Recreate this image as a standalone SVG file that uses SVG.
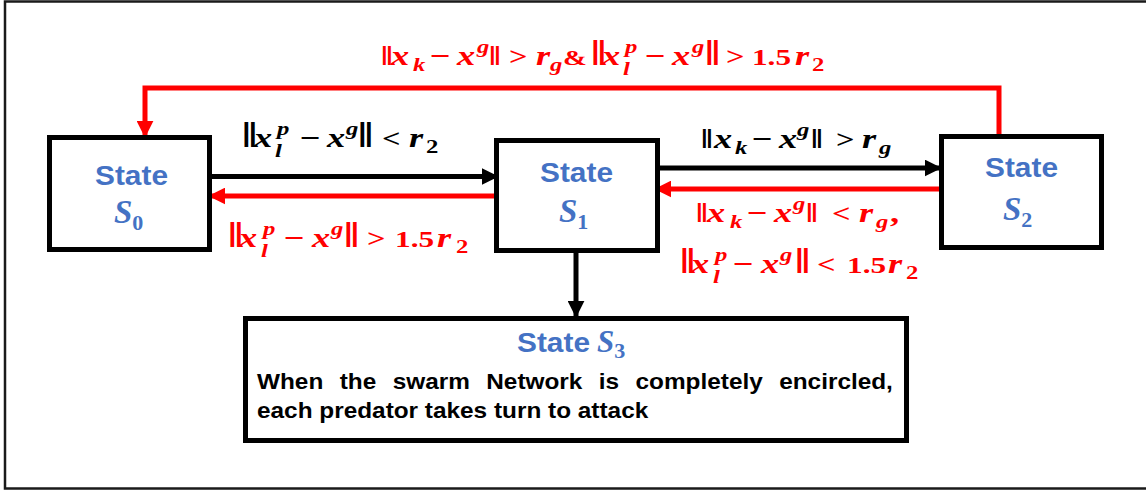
<svg xmlns="http://www.w3.org/2000/svg" width="1146" height="493" viewBox="0 0 1146 493">
<style>
.frame{fill:#fff;stroke:#1a1a1a;stroke-width:2.5}
.box{fill:#fff;stroke:#000;stroke-width:5}
.st{font-family:"Liberation Sans","DejaVu Sans",sans-serif;font-weight:bold;font-size:27px;fill:#4472C4}
.sv{font-family:"Liberation Serif","DejaVu Serif",serif;font-style:italic;font-weight:bold;font-size:33px;fill:#4472C4}
.ss{font-family:"Liberation Serif","DejaVu Serif",serif;font-weight:bold;font-size:22px;fill:#4472C4}
.desc{font-family:"Liberation Sans","DejaVu Sans",sans-serif;font-weight:bold;font-size:22px;fill:#000}
.m{font-family:"Liberation Serif","DejaVu Serif",serif;font-weight:bold;font-size:28px}
.v{font-style:italic}
.sb{font-size:19px;font-style:italic}
.nm{font-size:19px}
.rel{font-size:25px}
.num{font-size:24px}
.amp{font-size:22px}
.bt{font-size:36px}
.bn{font-size:28px}
.blk{fill:#000}
.red{fill:#FF0000}
.cb{fill:none;stroke:#000;stroke-width:5}
.cr{fill:none;stroke:#FF0000;stroke-width:5}
</style>
<defs>
<marker id="ab" viewBox="0 0 10 10" refX="9" refY="5" markerWidth="3.4" markerHeight="3.4" orient="auto" markerUnits="strokeWidth"><path d="M0,0 L10,5 L0,10 z" fill="#000"/></marker>
<marker id="ar" viewBox="0 0 10 10" refX="9" refY="5" markerWidth="3.4" markerHeight="3.4" orient="auto" markerUnits="strokeWidth"><path d="M0,0 L10,5 L0,10 z" fill="#FF0000"/></marker>
</defs>
<rect class="frame" x="5" y="1.5" width="1160" height="487"/>

<g id="connectors">
<line class="cb" x1="211" y1="176.5" x2="497" y2="176.5" marker-end="url(#ab)"/>
<line class="cr" x1="494" y1="196" x2="210" y2="196" marker-end="url(#ar)"/>
<line class="cb" x1="660" y1="168" x2="940" y2="168" marker-end="url(#ab)"/>
<line class="cr" x1="941" y1="189" x2="656" y2="189" marker-end="url(#ar)"/>
<polyline class="cr" points="999,134 999,88 145,88 145,136" marker-end="url(#ar)"/>
<line class="cb" x1="576" y1="253" x2="576" y2="316" marker-end="url(#ab)"/>
</g>

<g id="S0">
<rect class="box" x="49.5" y="137.5" width="160" height="112"/>
<text class="st" x="95" y="185" textLength="73" lengthAdjust="spacingAndGlyphs">State</text>
<text x="114" y="223"><tspan class="sv">S</tspan><tspan class="ss" dy="7">0</tspan></text>
</g>

<g id="S1">
<rect class="box" x="496.5" y="140.5" width="161" height="110"/>
<text class="st" x="540" y="182" textLength="73" lengthAdjust="spacingAndGlyphs">State</text>
<text x="559" y="222"><tspan class="sv">S</tspan><tspan class="ss" dy="7">1</tspan></text>
</g>

<g id="S2">
<rect class="box" x="941.5" y="136.5" width="160" height="111"/>
<text class="st" x="985" y="177" textLength="73" lengthAdjust="spacingAndGlyphs">State</text>
<text x="1003" y="220"><tspan class="sv">S</tspan><tspan class="ss" dy="7">2</tspan></text>
</g>

<g id="S3">
<rect class="box" x="245.5" y="318.5" width="661" height="122"/>
<text class="st" x="517" y="352" textLength="73" lengthAdjust="spacingAndGlyphs">State</text>
<text x="597" y="352"><tspan class="sv" style="font-size:31px">S</tspan><tspan class="ss" dy="6">3</tspan></text>
<g transform="translate(257 0) scale(1.108 1)">
<text class="desc" x="0" y="389" word-spacing="8.7">When the swarm Network is completely encircled,</text>
<text class="desc" x="0" y="418">each predator takes turn to attack</text>
</g>
</g>

<g id="labels">
<text class="m red" transform="translate(381 0) scale(1.3 1)"><tspan class="bn" x="0" y="65">‖</tspan><tspan class="v" x="7.7" y="65">x</tspan><tspan class="sb" x="24.6" y="71">k</tspan><tspan x="37.7" y="65">−</tspan><tspan class="v" x="58.5" y="65">x</tspan><tspan class="sb" x="73.8" y="53">g</tspan><tspan class="bn" x="83.1" y="65">‖</tspan><tspan class="rel" x="98.5" y="65">&gt;</tspan><tspan class="v" x="119.2" y="65">r</tspan><tspan class="sb" x="130" y="71">g</tspan><tspan class="amp" x="140" y="65">&amp;</tspan><tspan class="bt" x="161.5" y="65">‖</tspan><tspan class="v" x="170" y="65">x</tspan><tspan class="sb" x="186.2" y="75">l</tspan><tspan class="sb" x="187.7" y="53">p</tspan><tspan x="203" y="65">−</tspan><tspan class="v" x="223.8" y="65">x</tspan><tspan class="sb" x="239.2" y="53">g</tspan><tspan class="bt" x="249.2" y="65">‖</tspan><tspan class="rel" x="265.4" y="65">&gt;</tspan><tspan class="num" x="285.4" y="65">1.5</tspan><tspan class="v" x="318.5" y="65">r</tspan><tspan class="nm" x="331.5" y="71">2</tspan></text>

<text class="m blk" transform="translate(242 0) scale(1.3 1)"><tspan class="bt" x="0" y="147">‖</tspan><tspan class="v" x="9.2" y="147">x</tspan><tspan class="sb" x="25.4" y="157">l</tspan><tspan class="sb" x="26.9" y="135">p</tspan><tspan x="44.6" y="147">−</tspan><tspan class="v" x="65.4" y="147">x</tspan><tspan class="sb" x="80" y="135">g</tspan><tspan class="bt" x="89.2" y="147">‖</tspan><tspan class="rel" x="107.7" y="147">&lt;</tspan><tspan class="v" x="128.5" y="147">r</tspan><tspan class="nm" x="141.5" y="153">2</tspan></text>

<text class="m red" transform="translate(228 0) scale(1.3 1)"><tspan class="bt" x="0" y="247">‖</tspan><tspan class="v" x="8.5" y="247">x</tspan><tspan class="sb" x="25.4" y="257">l</tspan><tspan class="sb" x="26.9" y="235">p</tspan><tspan x="43.1" y="247">−</tspan><tspan class="v" x="64.6" y="247">x</tspan><tspan class="sb" x="79.2" y="235">g</tspan><tspan class="bt" x="89.2" y="247">‖</tspan><tspan class="rel" x="106.9" y="247">&gt;</tspan><tspan class="num" x="128.5" y="247">1.5</tspan><tspan class="v" x="160.8" y="247">r</tspan><tspan class="nm" x="175.4" y="253">2</tspan></text>

<text class="m blk" transform="translate(701 0) scale(1.3 1)"><tspan class="bn" x="0" y="148">‖</tspan><tspan class="v" x="10" y="148">x</tspan><tspan class="sb" x="26.2" y="154">k</tspan><tspan x="39.2" y="148">−</tspan><tspan class="v" x="60" y="148">x</tspan><tspan class="sb" x="73.8" y="136">g</tspan><tspan class="bn" x="84.6" y="148">‖</tspan><tspan class="rel" x="103.8" y="148">&gt;</tspan><tspan class="v" x="123.8" y="148">r</tspan><tspan class="sb" x="136.9" y="154">g</tspan></text>

<text class="m red" transform="translate(696 0) scale(1.3 1)"><tspan class="bn" x="0" y="222">‖</tspan><tspan class="v" x="8.5" y="222">x</tspan><tspan class="sb" x="26.2" y="228">k</tspan><tspan x="39.2" y="222">−</tspan><tspan class="v" x="60" y="222">x</tspan><tspan class="sb" x="74.6" y="210">g</tspan><tspan class="bn" x="84.6" y="222">‖</tspan><tspan class="rel" x="104.6" y="222">&lt;</tspan><tspan class="v" x="125.4" y="222">r</tspan><tspan class="sb" x="138.5" y="228">g</tspan><tspan x="149.2" y="222">,</tspan></text>

<text class="m red" transform="translate(680 0) scale(1.3 1)"><tspan class="bt" x="0" y="273">‖</tspan><tspan class="v" x="8.5" y="273">x</tspan><tspan class="sb" x="25.4" y="283">l</tspan><tspan class="sb" x="26.9" y="261">p</tspan><tspan x="40.8" y="273">−</tspan><tspan class="v" x="62.3" y="273">x</tspan><tspan class="sb" x="76.9" y="261">g</tspan><tspan class="bt" x="88.5" y="273">‖</tspan><tspan class="rel" x="105.4" y="273">&lt;</tspan><tspan class="num" x="128.5" y="273">1.5</tspan><tspan class="v" x="160" y="273">r</tspan><tspan class="nm" x="173.8" y="279">2</tspan></text>
</g>
</svg>
